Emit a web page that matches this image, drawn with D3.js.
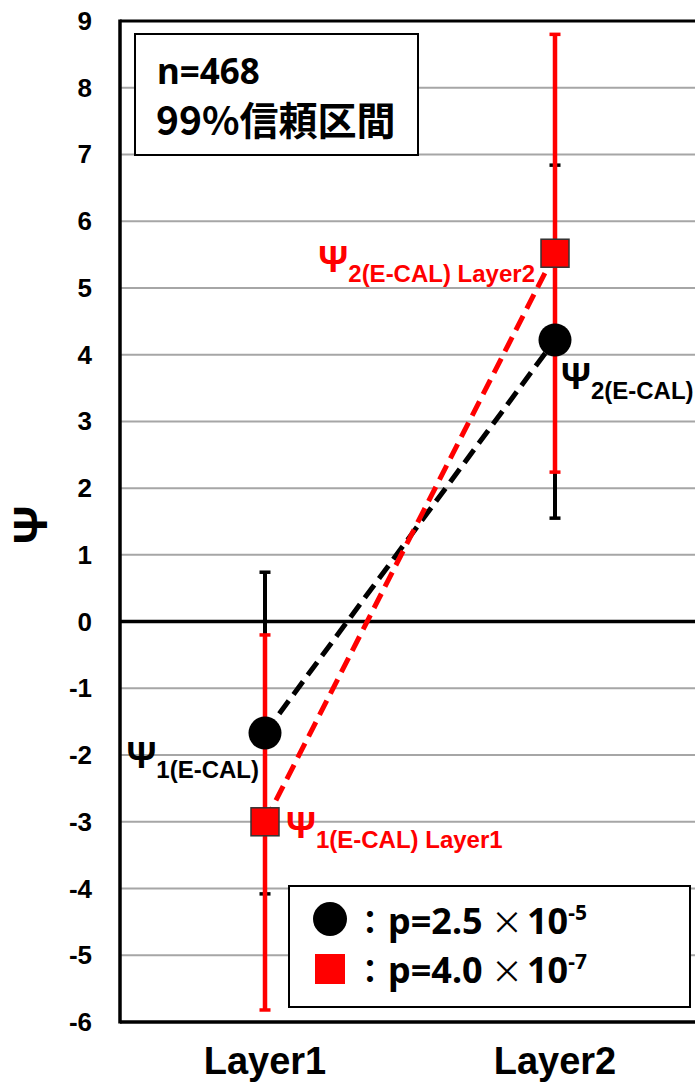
<!DOCTYPE html>
<html><head><meta charset="utf-8">
<script src="https://cdn.jsdelivr.net/npm/d3@7"></script>
<style>body{margin:0;background:#fff;} svg{display:block;}</style>
</head><body>
<script>
const categories = ["Layer1", "Layer2"];
const ecalMean = [-1.67, 4.22];
const ecalLow  = [-4.08, 1.55];
const ecalHigh = [0.74, 6.84];
const layerMean = [-3.0, 5.52];
const layerLow  = [-5.82, 2.24];
const layerHigh = [-0.2, 8.8];
const yTicks = [-6,-5,-4,-3,-2,-1,0,1,2,3,4,5,6,7,8,9];
const infoLines = ["n=468", "99%信頼区間"];
const legendP = [["2.5", "-5"], ["4.0", "-7"]];

const W = 695, H = 1082;
const svg = d3.select("body").append("svg").attr("width", W).attr("height", H);
const x = d3.scalePoint().domain(categories).range([120, 700]).padding(0.5);
const y = d3.scaleLinear().domain([-6, 9]).range([1022, 21]);
const sansB = "'Liberation Sans', Arial, sans-serif";
const cjk = "'Noto Sans CJK JP', 'Noto Sans', sans-serif";

// gridlines
svg.append("g").selectAll("line").data(yTicks.filter(d => d !== 0 && d !== 9 && d !== -6)).join("line")
  .attr("x1", 120).attr("x2", 700).attr("y1", d => y(d)).attr("y2", d => y(d))
  .attr("stroke", "#a6a6a6").attr("stroke-width", 2);
// zero line
svg.append("line").attr("x1", 120).attr("x2", 700).attr("y1", y(0)).attr("y2", y(0))
  .attr("stroke", "#000").attr("stroke-width", 3.5);
// frame
svg.append("line").attr("x1", 120).attr("x2", 700).attr("y1", y(9)).attr("y2", y(9)).attr("stroke", "#000").attr("stroke-width", 3);
svg.append("line").attr("x1", 120).attr("x2", 700).attr("y1", y(-6)).attr("y2", y(-6)).attr("stroke", "#000").attr("stroke-width", 3.5);
svg.append("line").attr("x1", 120).attr("x2", 120).attr("y1", y(9) - 1.5).attr("y2", y(-6) + 1.5).attr("stroke", "#000").attr("stroke-width", 3.5);

// y tick labels
svg.append("g").selectAll("text").data(yTicks).join("text")
  .attr("x", 92).attr("y", d => y(d) + 9).attr("text-anchor", "end")
  .attr("font-family", sansB).attr("font-weight", "bold").attr("font-size", 26)
  .text(d => d);

// y title
svg.append("text").attr("transform", `translate(47,${y(1.45)}) rotate(-90)`)
  .attr("text-anchor", "middle").attr("font-family", sansB).attr("font-weight", "bold")
  .attr("font-size", 48).text("Ψ");

// x labels
svg.append("g").selectAll("text").data(categories).join("text")
  .attr("x", d => x(d)).attr("y", 1074).attr("text-anchor", "middle")
  .attr("font-family", sansB).attr("font-weight", "bold").attr("font-size", 38).text(d => d);

// error bars
function errBars(low, high, color, w) {
  const g = svg.append("g");
  categories.forEach((c, i) => {
    g.append("line").attr("x1", x(c)).attr("x2", x(c)).attr("y1", y(low[i])).attr("y2", y(high[i]))
      .attr("stroke", color).attr("stroke-width", w);
    [low[i], high[i]].forEach(v => {
      g.append("line").attr("x1", x(c) - 5.5).attr("x2", x(c) + 5.5).attr("y1", y(v)).attr("y2", y(v))
        .attr("stroke", color).attr("stroke-width", 3.5);
    });
  });
}
errBars(ecalLow, ecalHigh, "#000", 4);
errBars(layerLow, layerHigh, "#ff0000", 4.5);

// dashed connecting lines
const lineGen = d3.line().x(d => x(d[0])).y(d => y(d[1]));
svg.append("path").attr("d", lineGen(categories.map((c, i) => [c, ecalMean[i]])))
  .attr("fill", "none").attr("stroke", "#000").attr("stroke-width", 5).attr("stroke-dasharray", "16,8");
svg.append("path").attr("d", lineGen(categories.map((c, i) => [c, layerMean[i]])))
  .attr("fill", "none").attr("stroke", "#ff0000").attr("stroke-width", 5).attr("stroke-dasharray", "16,8");

// markers
svg.append("g").selectAll("circle").data(ecalMean).join("circle")
  .attr("cx", (d, i) => x(categories[i])).attr("cy", d => y(d)).attr("r", 16.5).attr("fill", "#000");
svg.append("g").selectAll("rect").data(layerMean).join("rect")
  .attr("x", (d, i) => x(categories[i]) - 14).attr("y", d => y(d) - 14)
  .attr("width", 28).attr("height", 28).attr("fill", "#ff0000").attr("stroke", "#333").attr("stroke-width", 1.5);

// psi labels
function psiLabel(px, py, anchor, color, sub) {
  const t = svg.append("text").attr("x", px).attr("y", py).attr("text-anchor", anchor)
    .attr("font-family", sansB).attr("font-weight", "bold").attr("fill", color);
  t.append("tspan").attr("font-size", 37).text("Ψ");
  t.append("tspan").attr("font-size", 24).attr("dy", 10).text(sub);
}
psiLabel(x("Layer1") - 6, y(ecalMean[0]) + 35, "end", "#000", "1(E-CAL)");
psiLabel(x("Layer1") + 21, y(layerMean[0]) + 16, "start", "#ff0000", "1(E-CAL) Layer1");
psiLabel(x("Layer2") - 20, y(layerMean[1]) + 19, "end", "#ff0000", "2(E-CAL) Layer2");
psiLabel(x("Layer2") + 6, y(ecalMean[1]) + 49, "start", "#000", "2(E-CAL)");

// info box
svg.append("rect").attr("x", 135).attr("y", 34).attr("width", 283).attr("height", 121)
  .attr("fill", "#fff").attr("stroke", "#000").attr("stroke-width", 2);
svg.append("text").attr("x", 157).attr("y", 84).attr("font-family", "'Noto Sans', sans-serif")
  .attr("font-weight", "bold").attr("font-size", 35).text(infoLines[0]);
svg.append("text").attr("x", 156).attr("y", 135).attr("font-family", cjk)
  .attr("font-weight", "bold").attr("font-size", 39).text(infoLines[1]);

// legend
svg.append("rect").attr("x", 289).attr("y", 886).attr("width", 401).attr("height", 121)
  .attr("fill", "#fff").attr("stroke", "#000").attr("stroke-width", 2);
svg.append("circle").attr("cx", 330).attr("cy", 919).attr("r", 17).attr("fill", "#000");
svg.append("rect").attr("x", 315).attr("y", 954).attr("width", 30).attr("height", 30).attr("fill", "#ff0000");
legendP.forEach((p, i) => {
  const t = svg.append("text").attr("x", 354).attr("y", 934 + i * 49).attr("font-family", cjk)
    .attr("font-weight", "bold").attr("font-size", 32);
  t.append("tspan").text("：");
  t.append("tspan").attr("x", 388).attr("font-family", "'Noto Sans', sans-serif").attr("font-size", 36).text("p=" + p[0]);
  t.append("tspan").attr("x", 491).attr("font-weight", "normal").attr("font-size", 32).text("×");
  t.append("tspan").attr("x", 527).attr("font-family", "'Noto Sans', sans-serif").attr("font-size", 36).text("10");
  t.append("tspan").attr("dy", -14).attr("font-family", "'Noto Sans', sans-serif").attr("font-size", 21).text(p[1]);
});
</script>
</body></html>
